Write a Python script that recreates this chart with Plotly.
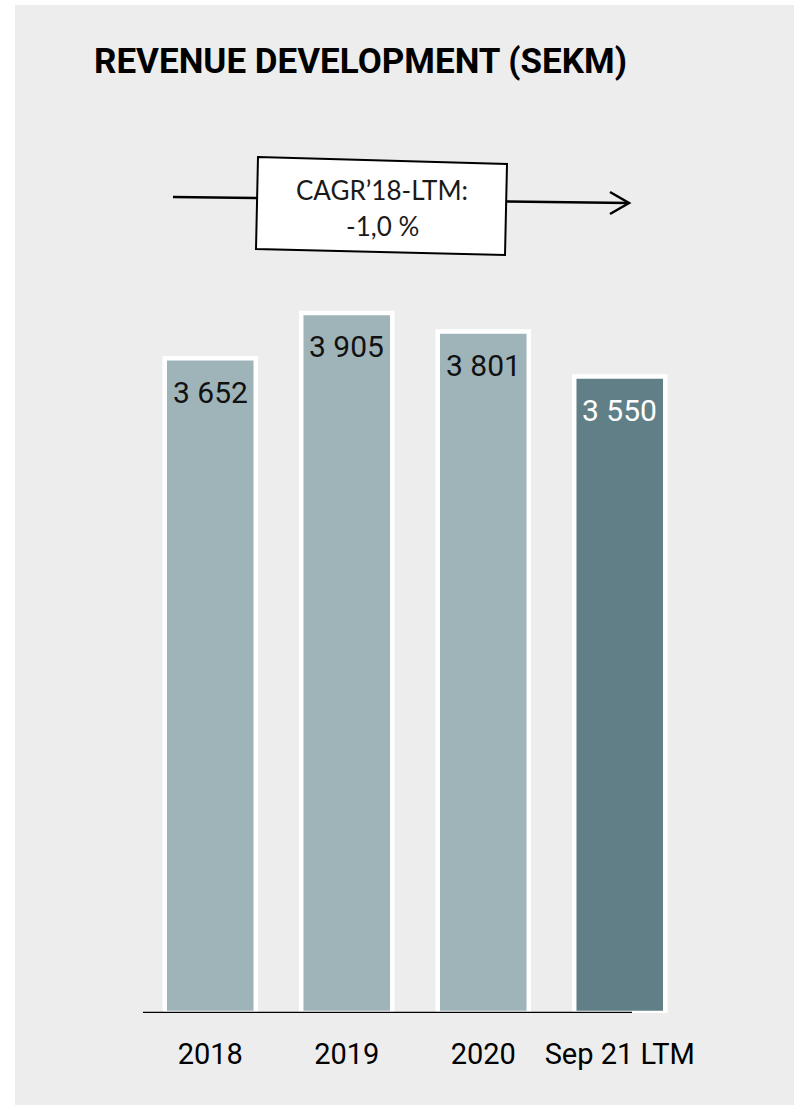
import plotly.graph_objects as go

# Revenue by period (SEK million)
periods = ["2018", "2019", "2020", "Sep 21 LTM"]
revenue = [3652, 3905, 3801, 3550]
bar_colors = ["#9fb4b9", "#9fb4b9", "#9fb4b9", "#607f87"]
label_colors = ["#111111", "#111111", "#111111", "#ffffff"]
cagr_text = ["CAGR’18-LTM:", "-1,0 %"]

# Page geometry (pixels)
FIG_W, FIG_H = 794, 1105
M_L, M_R, M_T, M_B = 142, 106, 113, 92
PLOT_W = FIG_W - M_L - M_R
PLOT_H = FIG_H - M_T - M_B


def px(x):
    """Horizontal pixel -> paper fraction."""
    return (x - M_L) / PLOT_W


def py(y):
    """Vertical pixel (from top) -> paper fraction."""
    return (M_T + PLOT_H - y) / PLOT_H


def fmt(v):
    return f"{v:,}".replace(",", " ")


fig = go.Figure()
fig.add_trace(
    go.Bar(
        x=periods,
        y=revenue,
        width=0.667,
        marker=dict(color=bar_colors, line=dict(color="#ffffff", width=4.5)),
        hoverinfo="skip",
    )
)

annotations = []
# value labels inside the top of each bar (x given as category index)
for i, (v, c) in enumerate(zip(revenue, label_colors)):
    annotations.append(
        dict(
            x=i, y=v, xref="x", yref="y", text=fmt(v), showarrow=False,
            xanchor="center", yanchor="middle", yshift=-34,
            font=dict(family="Roboto", size=30, color=c),
        )
    )

# title
annotations.append(
    dict(
        x=px(92), y=py(61), xref="paper", yref="paper", xanchor="left", yanchor="middle",
        text="<b>REVENUE DEVELOPMENT (SEKM)</b>", showarrow=False,
        font=dict(family="Roboto", size=35, color="#000000"),
    )
)

# CAGR box text
for txt, yy in zip(cagr_text, (190, 226)):
    annotations.append(
        dict(x=px(382), y=py(yy), xref="paper", yref="paper", text=txt, showarrow=False,
             xanchor="center", yanchor="middle",
             font=dict(family="Lato", size=26, color="#1a1a1a"))
    )


def path(points, close=False):
    s = "M " + " L ".join(f"{px(x)},{py(y)}" for x, y in points)
    return s + (" Z" if close else "")


shapes = [
    # panel background
    dict(type="rect", xref="paper", yref="paper", x0=px(15), x1=px(FIG_W + 5),
         y0=py(5), y1=py(FIG_H + 5), fillcolor="#ededed", line=dict(width=0), layer="below"),
    # baseline
    dict(type="line", xref="paper", yref="y", x0=px(143), x1=px(632), y0=0, y1=0,
         line=dict(color="#000000", width=2.5), layer="above"),
    # trend arrow shaft
    dict(type="path", xref="paper", yref="paper", path=path([(173, 197), (628, 203)]),
         line=dict(color="#000000", width=2.5)),
    # arrow head
    dict(type="path", xref="paper", yref="paper", path=path([(610, 192), (629, 203), (610, 214)]),
         line=dict(color="#000000", width=2.5)),
    # tilted label box
    dict(type="path", xref="paper", yref="paper",
         path=path([(258, 157), (507, 164), (505, 255), (256, 249)], close=True),
         fillcolor="#ffffff", line=dict(color="#000000", width=2)),
]

fig.update_layout(
    width=FIG_W, height=FIG_H,
    margin=dict(l=M_L, r=M_R, t=M_T, b=M_B, pad=0),
    paper_bgcolor="#ffffff", plot_bgcolor="rgba(0,0,0,0)",
    showlegend=False,
    annotations=annotations,
    shapes=shapes,
    xaxis=dict(
        type="category", range=[-0.5, 3.5], showgrid=False, zeroline=False, showline=False,
        ticks="outside", ticklen=15, tickcolor="rgba(0,0,0,0)",
        tickfont=dict(family="Roboto", size=29, color="#000000"),
    ),
    yaxis=dict(range=[0, 5020], visible=False),
)

fig.write_html("out.html")
